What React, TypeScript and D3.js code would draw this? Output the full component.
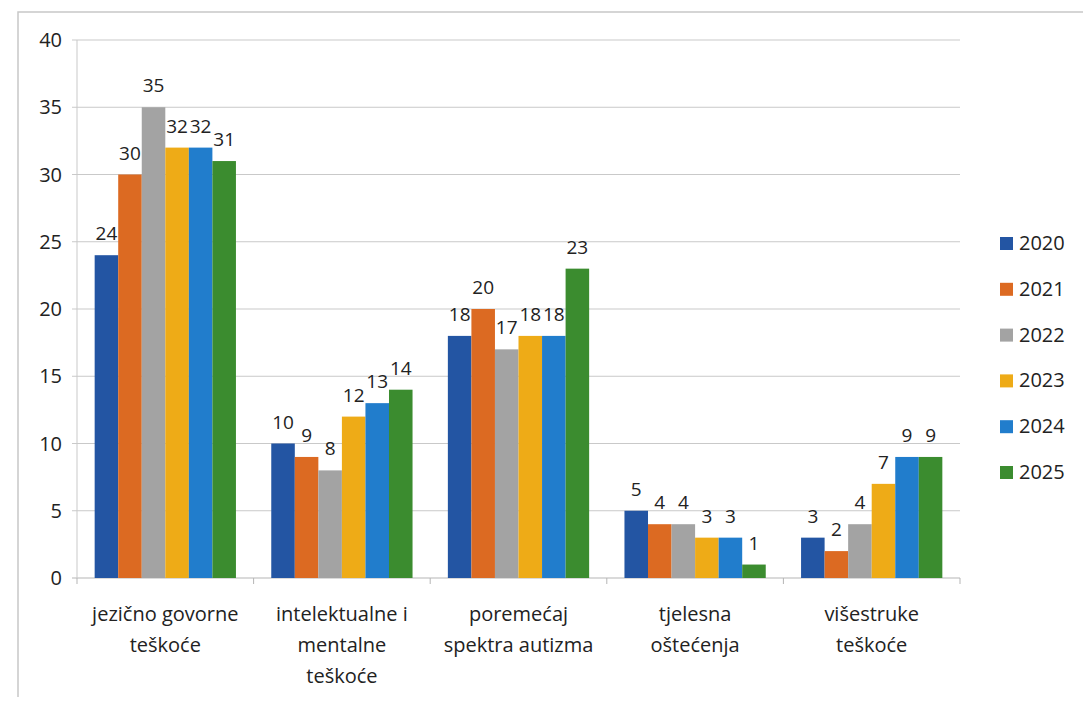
import React from "react";
import * as d3 from "d3";

const categories = [
  "jezično govorne\nteškoće",
  "intelektualne i\nmentalne\nteškoće",
  "poremećaj\nspektra autizma",
  "tjelesna\noštećenja",
  "višestruke\nteškoće",
];
const years = ["2020", "2021", "2022", "2023", "2024", "2025"];
const v2020 = [24, 10, 18, 5, 3];
const v2021 = [30, 9, 20, 4, 2];
const v2022 = [35, 8, 17, 4, 4];
const v2023 = [32, 12, 18, 3, 7];
const v2024 = [32, 13, 18, 3, 9];
const v2025 = [31, 14, 23, 1, 9];
const yTicks = [0, 5, 10, 15, 20, 25, 30, 35, 40];
const colors = ["#2355a3", "#dc6a22", "#a3a3a3", "#eeab17", "#217dcc", "#3b8c2f"];

const series = [v2020, v2021, v2022, v2023, v2024, v2025];

export default function App() {
  const W = 1083, H = 701;
  const left = 77, right = 960, top = 40, bottom = 578;
  const font = "'Open Sans', Lato, sans-serif";
  const y = d3.scaleLinear().domain([0, 40]).range([bottom, top]);
  const x0 = d3.scaleBand<number>().domain(d3.range(categories.length)).range([left, right]).paddingInner(0.2).paddingOuter(0.1);
  const x1 = d3.scaleBand<number>().domain(d3.range(years.length)).range([0, x0.bandwidth()]);
  const step = (right - left) / categories.length;
  const bounds = d3.range(categories.length + 1).map((i) => left + i * step);

  return (
    <svg width={W} height={H} style={{ position: "absolute", left: 0, top: 0, background: "#fff" }} fontFamily={font}>
      <rect x={0} y={0} width={W} height={H} fill="#fff" />
      <path d={`M18,${H - 4} L18,12 L${W},12`} fill="none" stroke="#c8c8c8" strokeWidth={1.5} />
      {yTicks.map((t) => (
        <g key={t}>
          <line x1={left - 5} x2={right} y1={y(t)} y2={y(t)} stroke={t === 0 ? "#b5b5b5" : "#c9c9c9"} strokeWidth={1} />
          <text x={62} y={y(t)} dy="0.35em" textAnchor="end" fontSize={20} fill="#222">{t}</text>
        </g>
      ))}
      <line x1={left} x2={left} y1={top} y2={bottom} stroke="#c9c9c9" />
      {bounds.map((b, i) => (
        <line key={i} x1={b} x2={b} y1={bottom} y2={bottom + 6} stroke="#b5b5b5" />
      ))}
      {series.map((vals, s) =>
        vals.map((v, c) => {
          const bx = (x0(c) as number) + (x1(s) as number);
          return (
            <g key={`${s}-${c}`}>
              <rect x={bx} y={y(v)} width={x1.bandwidth()} height={bottom - y(v)} fill={colors[s]} />
              <text x={bx + x1.bandwidth() / 2} y={y(v) - 15} textAnchor="middle" fontSize={19} fill="#222">{v}</text>
            </g>
          );
        })
      )}
      {categories.map((c, i) => (
        <text key={i} x={(x0(i) as number) + x0.bandwidth() / 2} y={621} textAnchor="middle" fontSize={20} fill="#222">
          {c.split("\n").map((ln, j) => (
            <tspan key={j} x={(x0(i) as number) + x0.bandwidth() / 2} dy={j === 0 ? 0 : 31}>{ln}</tspan>
          ))}
        </text>
      ))}
      {years.map((yr, i) => (
        <g key={yr} transform={`translate(1000, ${243 + i * 45.8})`}>
          <rect x={0} y={-6} width={13} height={13} fill={colors[i]} />
          <text x={19} y={0} dy="0.35em" fontSize={20} fill="#222">{yr}</text>
        </g>
      ))}
    </svg>
  );
}
